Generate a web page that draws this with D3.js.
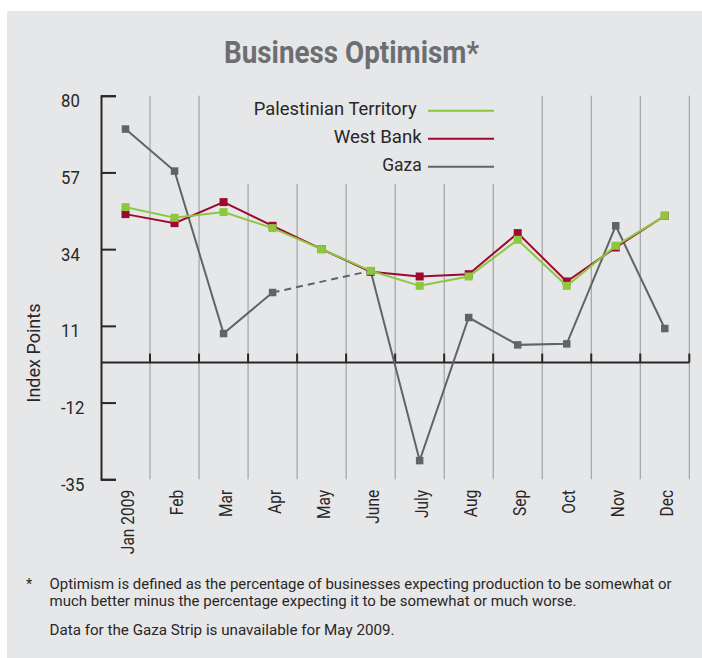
<!DOCTYPE html>
<html>
<head>
<meta charset="utf-8">
<script src="https://cdn.jsdelivr.net/npm/d3@7"></script>
<style>
  html, body { margin: 0; padding: 0; background: #fff; }
  svg { display: block; font-family: Roboto, "Liberation Sans", sans-serif; }
</style>
</head>
<body>
<svg width="702" height="658"></svg>
<script>
const months = ["Jan 2009", "Feb", "Mar", "Apr", "May", "June", "July", "Aug", "Sep", "Oct", "Nov", "Dec"]
const territory = [46.6, 43.4, 45.1, 40.3, 34.0, 27.5, 23.0, 25.8, 36.8, 23.0, 35.0, 44.0]
const westBank = [44.5, 41.8, 48.1, 41.0, 34.0, 27.2, 25.8, 26.5, 38.8, 24.3, 34.5, 44.0]
const gaza = [70.0, 57.4, 8.7, 21.0, null, 27.5, -29.4, 13.5, 5.3, 5.6, 41.0, 10.2]
const yTicks = [80, 57, 34, 11, -12, -35]
const seriesNames = ["Palestinian Territory", "West Bank", "Gaza"]
const footnotes = [
  "Optimism is defined as the percentage of businesses expecting production to be somewhat or",
  "much better minus the percentage expecting it to be somewhat or much worse.",
  "Data for the Gaza Strip is unavailable for May 2009."
]

const bg = "#e6e7e8"
const ink = "#2a2627"
const colors = { "Palestinian Territory": "#8dc63f", "West Bank": "#9d0a2f", "Gaza": "#626366" }

const svg = d3.select("svg")

// squeeze a text to a given width (the original face is condensed)
const fitWidth = (sel, w) => sel.attr("textLength", w).attr("lengthAdjust", "spacingAndGlyphs")
const condense = (sel, k) => sel.each(function() {
  d3.select(this).attr("textLength", this.getComputedTextLength() * k).attr("lengthAdjust", "spacingAndGlyphs")
})

svg.append("rect")
  .attr("x", 7).attr("y", 11)
  .attr("width", 702).attr("height", 658)
  .attr("fill", bg)

const x = d3.scaleBand().domain(months).range([101, 689.3])
const y = d3.scaleLinear().domain([-35, 80]).range([479.3, 95.7])
const bw = x.bandwidth()
const cx = m => x(m) + bw / 2

// title
svg.append("text")
  .attr("x", 351.5).attr("y", 62.5)
  .attr("text-anchor", "middle")
  .attr("font-size", 31).attr("font-weight", "bold")
  .attr("fill", "#6d6e71")
  .text("Business Optimism*")
  .call(fitWidth, 255)

// vertical gridlines at band edges
svg.append("g")
  .selectAll("line")
  .data(months)
  .join("line")
    .attr("x1", m => x(m) + bw).attr("x2", m => x(m) + bw)
    .attr("y1", y(-35)).attr("y2", y(80))
    .attr("stroke", "#939598").attr("stroke-width", 1)

// legend sits on a patch of background over the gridlines
svg.append("rect")
  .attr("x", 204).attr("y", 88)
  .attr("width", 333).attr("height", 96)
  .attr("fill", bg)

// y axis
const yAxis = svg.append("g")
  .attr("transform", "translate(101,0)")
  .call(d3.axisLeft(y).tickValues(yTicks).tickSizeInner(-15).tickSizeOuter(-15).tickFormat(d => String(d)))
yAxis.select(".domain").attr("stroke", ink).attr("stroke-width", 2)
yAxis.selectAll(".tick line").attr("stroke", ink).attr("stroke-width", 2)
yAxis.selectAll(".tick text")
  .attr("x", -40).attr("dy", 11)
  .attr("text-anchor", "start")
  .attr("font-size", 19).attr("font-family", "Roboto, sans-serif")
  .attr("fill", ink)
  .call(condense, 0.88)

// zero line with small upward ticks
const zero = svg.append("g")
zero.append("line")
  .attr("x1", x.range()[0]).attr("x2", x.range()[1])
  .attr("y1", y(0)).attr("y2", y(0))
  .attr("stroke", ink).attr("stroke-width", 2)
zero.selectAll(".zt")
  .data(months)
  .join("line")
    .attr("class", "zt")
    .attr("x1", m => x(m) + bw).attr("x2", m => x(m) + bw)
    .attr("y1", y(0)).attr("y2", y(0) - 9)
    .attr("stroke", ink).attr("stroke-width", 2)

// month labels
svg.append("g")
  .selectAll("text")
  .data(months)
  .join("text")
    .attr("transform", m => `translate(${cx(m) + 8},${y(-35) + 10.5}) rotate(-90)`)
    .attr("text-anchor", "end")
    .attr("font-size", 18.5)
    .attr("fill", ink)
    .text(m => m)
    .call(condense, 0.84)

// y title
svg.append("text")
  .attr("transform", "translate(40,353) rotate(-90)")
  .attr("text-anchor", "middle")
  .attr("font-size", 19)
  .attr("fill", ink)
  .text("Index Points")
  .call(fitWidth, 99)

// series
const line = d3.line()
  .defined(d => d.v != null)
  .x(d => cx(d.m))
  .y(d => y(d.v))

const drawSeries = (name, values, size) => {
  const pts = months.map((m, i) => ({ m, v: values[i] }))
  const g = svg.append("g")
  g.append("path")
    .datum(pts)
    .attr("d", line)
    .attr("fill", "none")
    .attr("stroke", colors[name]).attr("stroke-width", 2)
  // dashed bridge over missing months
  const known = pts.filter(d => d.v != null)
  for (let i = 1; i < known.length; i++) {
    if (months.indexOf(known[i].m) - months.indexOf(known[i - 1].m) > 1) {
      g.append("path")
        .datum([known[i - 1], known[i]])
        .attr("d", line)
        .attr("fill", "none")
        .attr("stroke", colors[name]).attr("stroke-width", 2)
        .attr("stroke-dasharray", "7,5")
    }
  }
  g.selectAll("rect")
    .data(known)
    .join("rect")
      .attr("x", d => cx(d.m) - size / 2)
      .attr("y", d => y(d.v) - size / 2)
      .attr("width", size).attr("height", size)
      .attr("fill", colors[name])
}

drawSeries("Gaza", gaza, 7.5)
drawSeries("West Bank", westBank, 8)
drawSeries("Palestinian Territory", territory, 8)

// legend
const legendWidths = [163, 88, 39.5]
const legendEnds = [416.7, 421.7, 421.7]
const legend = svg.append("g")
seriesNames.forEach((name, i) => {
  const base = 114.5 + i * 28
  legend.append("text")
    .attr("x", legendEnds[i]).attr("y", base)
    .attr("text-anchor", "end")
    .attr("font-size", 19)
    .attr("fill", ink)
    .text(name)
    .call(fitWidth, legendWidths[i])
  legend.append("line")
    .attr("x1", 428).attr("x2", 494)
    .attr("y1", base - 3.8).attr("y2", base - 3.8)
    .attr("stroke", colors[name]).attr("stroke-width", 2)
})

// footnote
svg.append("text")
  .attr("x", 26).attr("y", 589)
  .attr("font-size", 14.5)
  .attr("fill", ink)
  .text("*")
const noteWidths = [622, 527, 345]
const noteBases = [589, 606, 635]
footnotes.forEach((t, i) => {
  svg.append("text")
    .attr("x", 49.5).attr("y", noteBases[i])
    .attr("font-size", 14.5)
    .attr("fill", ink)
    .text(t)
    .call(fitWidth, noteWidths[i])
})
</script>
</body>
</html>
